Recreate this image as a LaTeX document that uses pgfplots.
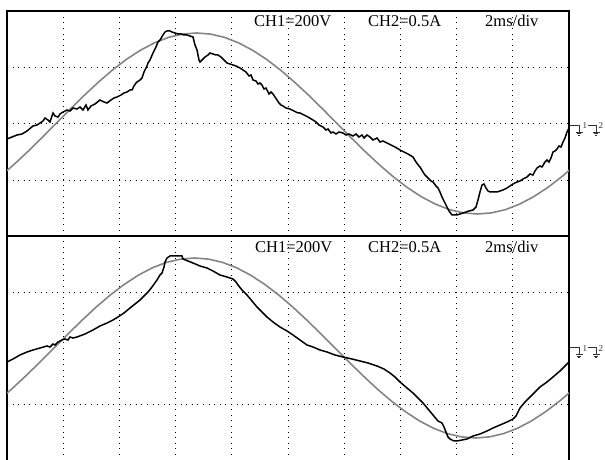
\documentclass[border=0pt]{standalone}
\usepackage{pgfplots}
\pgfplotsset{compat=1.18}
\usepackage{fontspec}
\setmainfont{Liberation Serif}
\definecolor{trgray}{HTML}{858585}
\pgfplotsset{osc/.style={
  scale only axis, width=562pt, xmin=7, xmax=569,
  xtick={63.2,119.4,175.6,231.8,288,344.2,400.4,456.6,512.8},
  xticklabels={}, yticklabels={},
  major tick length=0pt, grid=major,
  major grid style={black, line width=0.75pt, dash pattern=on 0.75pt off 4.85pt},
  axis line style={black, line width=1.4pt},
  clip mode=individual,
}}
\begin{document}
\begin{tikzpicture}[x=1pt,y=1pt]
\useasboundingbox (0,0) rectangle (605,460);
% ---------------- top panel ----------------
\begin{axis}[osc, at={(7,224)}, anchor=south west, height=225pt,
  ymin=224, ymax=449, ytick={280,336.5,393}]
\addplot[trgray, line width=1.6pt] coordinates {
(-0.2,283.3)(13.85,295.4)(27.9,308.5)(41.95,322.3)(56,336.5)(70.05,350.7)(84.1,364.5)(98.15,377.6)(112.2,389.7)(126.25,400.5)(140.3,409.7)(154.35,417.1)(168.4,422.6)(182.45,425.9)(196.5,427.0)(210.55,425.9)(224.6,422.6)(238.65,417.1)(252.7,409.7)(266.75,400.5)(280.8,389.7)(294.85,377.6)(308.9,364.5)(322.95,350.7)(337,336.5)(351.05,322.3)(365.1,308.5)(379.15,295.4)(393.2,283.3)(407.25,272.5)(421.3,263.3)(435.35,255.9)(449.4,250.4)(463.45,247.1)(477.5,246.0)(491.55,247.1)(505.6,250.4)(519.65,255.9)(533.7,263.3)(547.75,272.5)(561.8,283.3)(575.85,295.4)};
\addplot[black, line width=1.5pt] coordinates {
(7,321)(12,323)(17,325)(22,326)(27,329)(33,334)(37,335)(40,337)(43,339)(45,342)(48,340)(50,338)(53,347)(55,344)(58,343)(60,346)(63,348)(67,350)(70,349)(73,352)(77,351)(80,353)(83,350)(86,355)(88,350)(91,354)(95,356)(100,360)(104,358)(107,357)(111,360)(114,362)(117,363)(121,365)(124,367)(127,368)(130,370)(132,370)(134,374)(136,377)(137,378)(140,380)(142,382)(144,388)(145,390)(147,394)(148,397)(150,400)(153,407)(156,413)(158,418)(160,420)(163,425)(165,428)(167,429)(170,429)(172,428)(175,427)(178,426)(181,426)(184,425)(187,425)(190,424)(193,423)(195,415)(197,410)(199,400)(200,398)(202,400)(205,403)(208,405)(210,407)(213,406)(216,405)(218,405)(221,403)(224,400)(227,397)(230,396)(233,395)(236,394)(240,392)(243,390)(246,388)(249,384)(251,385)(253,380)(256,379)(258,376)(260,377)(262,375)(264,371)(266,372)(267,370)(269,366)(271,368)(273,366)(275,363)(277,360)(279,357)(281,355)(283,354)(286,352)(290,351)(294,349)(298,347)(300,347)(304,345)(308,343)(313,340)(316,338)(319,335)(323,333)(326,330)(328,331)(331,327)(333,328)(336,326)(339,328)(343,327)(346,325)(349,326)(353,324)(356,326)(359,323)(362,325)(364,322)(367,325)(370,323)(373,320)(377,322)(380,318)(383,319)(387,317)(391,315)(395,313)(400,310)(404,308)(408,306)(413,303)(416,298)(419,294)(420,293)(423,288)(425,285)(427,283)(429,281)(431,279)(433,278)(436,274)(438,272)(440,268)(442,263)(444,259)(447,253)(449,249)(452,245)(455,245)(457,245)(460,246)(463,247)(466,248)(469,249)(473,250)(476,253)(478,260)(480,268)(482,275)(484,276)(486,272)(488,269)(490,268)(494,268)(497,268)(500,269)(503,270)(507,272)(510,274)(513,276)(517,278)(520,279)(523,281)(527,283)(530,286)(533,285)(535,289)(537,292)(540,294)(542,293)(545,298)(547,300)(549,298)(551,302)(553,308)(555,309)(557,311)(559,314)(561,313)(563,318)(565,322)(567,328)(569,332)};
\node[anchor=base west, inner sep=0pt, font=\fontsize{16.5}{18}\selectfont] at (axis cs:254,433) {CH1=200V};
\node[anchor=base west, inner sep=0pt, font=\fontsize{16.5}{18}\selectfont] at (axis cs:368,433) {CH2=0.5A};
\node[anchor=base west, inner sep=0pt, font=\fontsize{16.5}{18}\selectfont] at (axis cs:485,433) {2ms/div};
% ground markers
\draw[black!80, line width=0.9pt] (axis cs:570,335) -- (axis cs:579,335) -- (axis cs:579,328);
\draw[black!80, line width=0.9pt] (axis cs:575.5,328) -- (axis cs:582.5,328) (axis cs:577,326.2) -- (axis cs:581,326.2) (axis cs:578.4,324.4) -- (axis cs:579.6,324.4);
\node[anchor=base west, inner sep=0pt, font=\fontsize{9}{10}\selectfont, black!80] at (axis cs:582.5,331) {1};
\draw[black!80, line width=0.9pt] (axis cs:587.7,335) -- (axis cs:596,335) -- (axis cs:596,328);
\draw[black!80, line width=0.9pt] (axis cs:592.5,328) -- (axis cs:599.5,328) (axis cs:594,326.2) -- (axis cs:598,326.2) (axis cs:595.4,324.4) -- (axis cs:596.6,324.4);
\node[anchor=base west, inner sep=0pt, font=\fontsize{9}{10}\selectfont, black!80] at (axis cs:598.5,331) {2};
\end{axis}
% ---------------- bottom panel ----------------
\begin{axis}[osc, at={(7,-6)}, anchor=south west, height=230pt,
  ymin=-6, ymax=224, ytick={56,168}]
\addplot[trgray, line width=1.6pt] coordinates {
(-2.2,59.1)(11.85,71.1)(25.9,84.2)(39.95,97.9)(54,112)(68.05,126.1)(82.1,139.8)(96.15,152.9)(110.2,164.9)(124.25,175.6)(138.3,184.8)(152.35,192.2)(166.4,197.6)(180.45,200.9)(194.5,202)(208.55,200.9)(222.6,197.6)(236.65,192.2)(250.7,184.8)(264.75,175.6)(278.8,164.9)(292.85,152.9)(306.9,139.8)(320.95,126.1)(335,112)(349.05,97.9)(363.1,84.2)(377.15,71.1)(391.2,59.1)(405.25,48.4)(419.3,39.2)(433.35,31.8)(447.4,26.4)(461.45,23.1)(475.5,22)(489.55,23.1)(503.6,26.4)(517.65,31.8)(531.7,39.2)(545.75,48.4)(559.8,59.1)(573.85,71.1)};
\addplot[black, line width=1.5pt] coordinates {
(7,98)(13,101)(20,105)(27,108)(33,110)(40,112)(47,114)(50,113)(53,116)(55,115)(58,118)(62,120)(65,121)(68,120)(70,123)(73,122)(77,123)(85,126)(93,130)(100,134)(107,137)(113,140)(118,143)(124,147)(130,152)(135,156)(140,160)(144,164)(148,168)(152,173)(157,180)(160,185)(162,187)(163,190)(164,193)(165,198)(167,202)(170,204)(176,204)(182,204)(183,201)(188,199)(193,197)(200,194)(207,192)(213,189)(220,185)(227,183)(233,181)(236,178)(238,175)(242,170)(247,165)(252,159)(257,153)(262,148)(267,143)(273,138)(280,133)(287,129)(293,125)(300,120)(307,115)(313,113)(320,110)(327,108)(335,105)(343,103)(352,101)(360,99)(368,97)(377,94)(384,91)(390,87)(395,83)(400,78)(407,72)(413,67)(418,62)(423,57)(428,51)(433,45)(438,39)(442,37)(444,33)(446,28)(448,23)(450,21)(454,19)(457,19)(462,20)(467,21)(473,24)(480,26)(487,29)(493,32)(500,35)(507,38)(513,41)(516,44)(518,48)(520,52)(525,58)(530,63)(535,68)(540,73)(547,78)(553,83)(560,89)(565,94)(569,98)};
\node[anchor=base west, inner sep=0pt, font=\fontsize{16.5}{18}\selectfont] at (axis cs:255,207) {CH1=200V};
\node[anchor=base west, inner sep=0pt, font=\fontsize{16.5}{18}\selectfont] at (axis cs:368,207) {CH2=0.5A};
\node[anchor=base west, inner sep=0pt, font=\fontsize{16.5}{18}\selectfont] at (axis cs:485,207) {2ms/div};
\draw[black!80, line width=0.9pt] (axis cs:570,112.7) -- (axis cs:579,112.7) -- (axis cs:579,105.7);
\draw[black!80, line width=0.9pt] (axis cs:575.5,105.7) -- (axis cs:582.5,105.7) (axis cs:577,103.9) -- (axis cs:581,103.9) (axis cs:578.4,102.1) -- (axis cs:579.6,102.1);
\node[anchor=base west, inner sep=0pt, font=\fontsize{9}{10}\selectfont, black!80] at (axis cs:582.5,108.7) {1};
\draw[black!80, line width=0.9pt] (axis cs:587.7,112.7) -- (axis cs:596,112.7) -- (axis cs:596,105.7);
\draw[black!80, line width=0.9pt] (axis cs:592.5,105.7) -- (axis cs:599.5,105.7) (axis cs:594,103.9) -- (axis cs:598,103.9) (axis cs:595.4,102.1) -- (axis cs:596.6,102.1);
\node[anchor=base west, inner sep=0pt, font=\fontsize{9}{10}\selectfont, black!80] at (axis cs:598.5,108.7) {2};
\end{axis}
\end{tikzpicture}
\end{document}
